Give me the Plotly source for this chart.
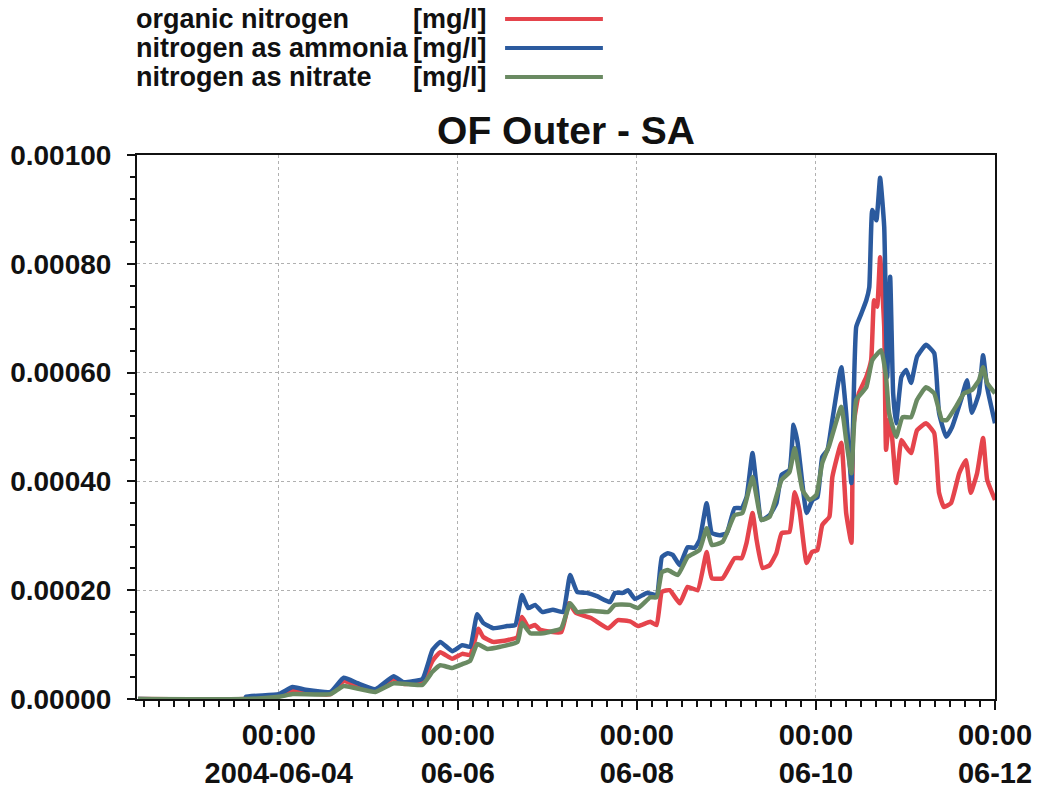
import pandas as pd
import plotly.graph_objects as go

# ---- data (hours after 2004-06-04 00:00, concentration in mg/l) ----
base_time = "2004-06-04 00:00"

organic_hours = [-37.7, -9.0, 0.0, 3.7, 7.2, 13.9, 17.4, 21.1, 25.9, 30.8,
                 33.4, 38.5, 41.2, 43.3, 46.5, 49.2, 51.3, 53.5, 54.8, 57.5,
                 61.2, 64.0, 65.2, 66.9, 68.7, 70.1, 75.7, 77.8, 79.7, 83.7,
                 88.3, 90.9, 94.4, 96.3, 99.6, 101.3, 102.7, 104.8, 107.5, 109.6,
                 112.3, 114.7, 116.1, 119.0, 122.2, 124.1, 125.4, 127.0, 128.1, 129.7,
                 131.6, 133.4, 134.8, 136.9, 138.3, 139.6, 141.5, 142.9, 144.4, 145.7,
                 147.6, 148.4, 150.8, 152.1, 153.5, 154.0, 155.5, 157.5, 158.8, 159.6,
                 160.4, 161.2, 162.3, 162.8, 163.6, 164.4, 165.5, 166.9, 168.2, 169.5,
                 171.1, 173.5, 175.7, 177.0, 178.3, 180.2, 182.4, 184.2, 185.5, 187.2,
                 188.8, 189.9, 192.0]
organic_vals = [0.0, 0.0, 0.06e-4, 0.17e-4, 0.11e-4, 0.09e-4, 0.33e-4, 0.24e-4, 0.15e-4, 0.37e-4,
                0.28e-4, 0.31e-4, 0.70e-4, 0.86e-4, 0.74e-4, 0.83e-4, 0.81e-4, 1.29e-4, 1.14e-4, 1.05e-4,
                1.08e-4, 1.14e-4, 1.51e-4, 1.32e-4, 1.36e-4, 1.27e-4, 1.23e-4, 1.76e-4, 1.58e-4, 1.49e-4,
                1.30e-4, 1.45e-4, 1.42e-4, 1.34e-4, 1.42e-4, 1.36e-4, 1.97e-4, 2.00e-4, 1.76e-4, 2.06e-4,
                2.00e-4, 2.70e-4, 2.22e-4, 2.22e-4, 2.59e-4, 2.59e-4, 2.87e-4, 3.42e-4, 2.92e-4, 2.41e-4,
                2.46e-4, 2.68e-4, 3.05e-4, 3.07e-4, 3.80e-4, 3.47e-4, 2.50e-4, 2.70e-4, 2.74e-4, 3.20e-4,
                3.35e-4, 4.08e-4, 4.71e-4, 3.42e-4, 2.87e-4, 5.00e-4, 5.62e-4, 5.92e-4, 6.23e-4, 7.33e-4,
                7.21e-4, 8.12e-4, 6.84e-4, 4.58e-4, 5.13e-4, 4.82e-4, 3.97e-4, 4.76e-4, 4.63e-4, 4.52e-4,
                4.94e-4, 5.07e-4, 4.89e-4, 3.79e-4, 3.53e-4, 3.60e-4, 4.15e-4, 4.39e-4, 3.79e-4, 4.15e-4,
                4.80e-4, 4.03e-4, 3.66e-4]

ammonia_hours = [-37.7, -9.0, -8.8, 0.0, 3.7, 7.2, 13.9, 17.4, 21.1, 25.9,
                 30.8, 33.4, 38.5, 41.2, 43.3, 46.5, 49.2, 51.3, 53.2, 54.8,
                 57.5, 61.2, 63.4, 65.2, 66.9, 68.7, 70.6, 73.5, 76.2, 78.1,
                 80.0, 82.6, 85.3, 88.8, 90.1, 92.3, 93.6, 95.5, 98.7, 101.3,
                 102.7, 104.3, 105.6, 107.5, 109.6, 111.5, 112.8, 114.7, 116.1, 118.2,
                 120.1, 122.2, 124.1, 125.4, 127.0, 128.1, 129.4, 131.6, 133.4, 134.8,
                 136.9, 138.0, 139.1, 141.5, 143.1, 144.4, 145.7, 147.1, 148.4, 150.8,
                 152.1, 153.5, 154.8, 156.2, 157.5, 158.3, 159.1, 160.2, 161.2, 162.3,
                 163.1, 163.9, 164.7, 165.5, 166.9, 168.2, 169.5, 171.1, 173.5, 175.7,
                 177.0, 178.9, 180.5, 182.9, 184.5, 185.8, 187.7, 188.8, 189.9, 192.0]
ammonia_vals = [0.0, 0.0, 0.04e-4, 0.09e-4, 0.22e-4, 0.17e-4, 0.13e-4, 0.39e-4, 0.29e-4, 0.18e-4,
                0.42e-4, 0.31e-4, 0.37e-4, 0.90e-4, 1.05e-4, 0.88e-4, 0.99e-4, 0.96e-4, 1.56e-4, 1.40e-4,
                1.30e-4, 1.34e-4, 1.36e-4, 1.91e-4, 1.67e-4, 1.73e-4, 1.60e-4, 1.64e-4, 1.60e-4, 2.28e-4,
                1.97e-4, 1.95e-4, 1.89e-4, 1.78e-4, 1.95e-4, 1.95e-4, 2.00e-4, 1.84e-4, 1.95e-4, 1.91e-4,
                2.61e-4, 2.68e-4, 2.65e-4, 2.46e-4, 2.79e-4, 2.78e-4, 2.92e-4, 3.60e-4, 3.05e-4, 3.01e-4,
                3.05e-4, 3.51e-4, 3.51e-4, 3.71e-4, 4.52e-4, 3.90e-4, 3.29e-4, 3.38e-4, 3.60e-4, 4.12e-4,
                4.21e-4, 5.04e-4, 4.71e-4, 3.42e-4, 3.66e-4, 3.71e-4, 4.45e-4, 4.58e-4, 5.13e-4, 6.10e-4,
                5.26e-4, 3.97e-4, 6.84e-4, 7.09e-4, 7.33e-4, 7.57e-4, 8.99e-4, 8.80e-4, 9.58e-4, 8.68e-4,
                5.92e-4, 7.76e-4, 5.62e-4, 5.07e-4, 5.92e-4, 6.05e-4, 5.81e-4, 6.29e-4, 6.51e-4, 6.36e-4,
                5.26e-4, 4.82e-4, 5.00e-4, 5.50e-4, 5.86e-4, 5.26e-4, 5.62e-4, 6.32e-4, 5.73e-4, 5.07e-4]

nitrate_hours = [-37.7, -9.0, 0.0, 3.7, 13.9, 17.4, 25.9, 30.8, 38.5, 41.2,
                 43.3, 46.5, 49.2, 51.3, 53.2, 55.9, 59.4, 64.0, 65.2, 67.4,
                 70.9, 75.7, 78.1, 80.0, 83.7, 88.3, 90.1, 94.1, 96.3, 99.6,
                 101.3, 102.7, 104.3, 107.0, 109.6, 112.8, 114.7, 116.1, 119.0, 122.2,
                 124.3, 127.0, 128.1, 129.4, 131.6, 134.8, 136.9, 138.3, 140.4, 142.3,
                 144.1, 145.7, 147.6, 150.8, 152.1, 153.5, 154.8, 157.5, 159.1, 161.5,
                 162.8, 163.6, 165.5, 167.2, 169.5, 171.1, 173.5, 175.7, 177.8, 179.1,
                 181.5, 183.7, 185.8, 187.7, 188.8, 189.9, 192.0]
nitrate_vals = [0.0, 0.0, 0.04e-4, 0.09e-4, 0.09e-4, 0.24e-4, 0.13e-4, 0.29e-4, 0.26e-4, 0.50e-4,
                0.62e-4, 0.57e-4, 0.64e-4, 0.70e-4, 1.01e-4, 0.92e-4, 0.96e-4, 1.05e-4, 1.40e-4, 1.21e-4,
                1.21e-4, 1.30e-4, 1.76e-4, 1.60e-4, 1.62e-4, 1.60e-4, 1.73e-4, 1.73e-4, 1.67e-4, 1.87e-4,
                1.87e-4, 2.33e-4, 2.37e-4, 2.28e-4, 2.61e-4, 2.74e-4, 3.14e-4, 2.83e-4, 2.89e-4, 3.38e-4,
                3.42e-4, 4.08e-4, 3.71e-4, 3.29e-4, 3.35e-4, 4.03e-4, 4.17e-4, 4.61e-4, 3.84e-4, 3.66e-4,
                3.75e-4, 4.34e-4, 4.67e-4, 5.37e-4, 4.76e-4, 4.15e-4, 5.50e-4, 5.73e-4, 6.23e-4, 6.41e-4,
                5.92e-4, 5.26e-4, 4.82e-4, 5.18e-4, 5.18e-4, 5.50e-4, 5.73e-4, 5.62e-4, 5.13e-4, 5.13e-4,
                5.37e-4, 5.62e-4, 5.68e-4, 5.86e-4, 6.10e-4, 5.81e-4, 5.62e-4]

series_names = ["organic nitrogen", "nitrogen as ammonia", "nitrogen as nitrate"]
series_unit = "[mg/l]"
series_colors = ["#e5444c", "#2b5a9e", "#6a8a62"]

x_tick_dates = ["2004-06-04", "2004-06-06", "2004-06-08", "2004-06-10", "2004-06-12"]
x_tick_text = ["00:00<br>2004-06-04", "00:00<br>06-06", "00:00<br>06-08",
               "00:00<br>06-10", "00:00<br>06-12"]
x_range = ["2004-06-02 10:00", "2004-06-12 00:00"]
y_ticks = [0.0, 0.0002, 0.0004, 0.0006, 0.0008, 0.001]
title_text = "OF Outer - SA"


def to_times(hours):
    return pd.Timestamp(base_time) + pd.to_timedelta(hours, unit="h")


FONT = "Liberation Sans, Arial, sans-serif"

fig = go.Figure()
for name, hrs, vals, col in zip(series_names,
                                [organic_hours, ammonia_hours, nitrate_hours],
                                [organic_vals, ammonia_vals, nitrate_vals],
                                series_colors):
    fig.add_trace(go.Scatter(x=to_times(hrs), y=vals, mode="lines", name=name,
                             line=dict(color=col, width=4.5, shape="spline", smoothing=0.4),
                             showlegend=False))

# legend built from annotations + line samples (text left, sample right)
leg_y = [1.2500, 1.1967, 1.1434]
for name, col, yy in zip(series_names, series_colors, leg_y):
    fig.add_annotation(xref="paper", yref="paper", x=-0.003, y=yy, text=name,
                       showarrow=False, xanchor="left", yanchor="middle",
                       font=dict(family=FONT, size=27, color="#111", weight="bold"))
    fig.add_annotation(xref="paper", yref="paper", x=0.3195, y=yy, text=series_unit,
                       showarrow=False, xanchor="left", yanchor="middle",
                       font=dict(family=FONT, size=27, color="#111", weight="bold"))
    fig.add_shape(type="line", xref="paper", yref="paper", x0=0.429, x1=0.543,
                  y0=yy, y1=yy, line=dict(color=col, width=4))

fig.update_layout(
    width=1041, height=789,
    margin=dict(l=137, r=46, t=155, b=90, autoexpand=False),
    paper_bgcolor="white", plot_bgcolor="white",
    title=dict(text=title_text, x=0.5, xref="paper", y=0.8352, yref="container",
               xanchor="center", yanchor="middle",
               font=dict(family=FONT, size=39, color="#111", weight="bold")),
    font=dict(family=FONT, color="#111"),
)

fig.update_xaxes(
    type="date", range=x_range, automargin=False,
    tickvals=x_tick_dates, ticktext=x_tick_text,
    ticks="outside", ticklen=9, tickwidth=2, tickcolor="#111",
    tickfont=dict(family=FONT, size=29, color="#111", weight="bold"),
    showline=True, linecolor="#111", linewidth=2, mirror=True,
    showgrid=True, gridcolor="#b0b0b0", griddash="dot", gridwidth=1,
    zeroline=False,
    minor=dict(ticks="outside", ticklen=6, tickwidth=1.5, tickcolor="#111",
               dtick=4 * 3600 * 1000, tick0="2004-06-04", showgrid=False),
)
fig.update_yaxes(
    range=[0, 0.001], tickvals=y_ticks, tickformat=".5f", automargin=False,
    ticks="outside", ticklen=8, tickwidth=2, tickcolor="#111", ticklabelstandoff=10,
    tickfont=dict(family=FONT, size=28, color="#111", weight="bold"),
    showline=True, linecolor="#111", linewidth=2, mirror=True,
    showgrid=True, gridcolor="#b0b0b0", griddash="dot", gridwidth=1,
    zeroline=False,
    minor=dict(ticks="outside", ticklen=5, tickwidth=1.5, tickcolor="#111",
               dtick=0.00004, showgrid=False),
)

# remove the default page margin so the figure sits at the window's top-left corner
fig.write_html("out.html",
               config={"displayModeBar": False},
               post_script="document.body.style.margin='0';document.body.style.overflow='hidden';")
